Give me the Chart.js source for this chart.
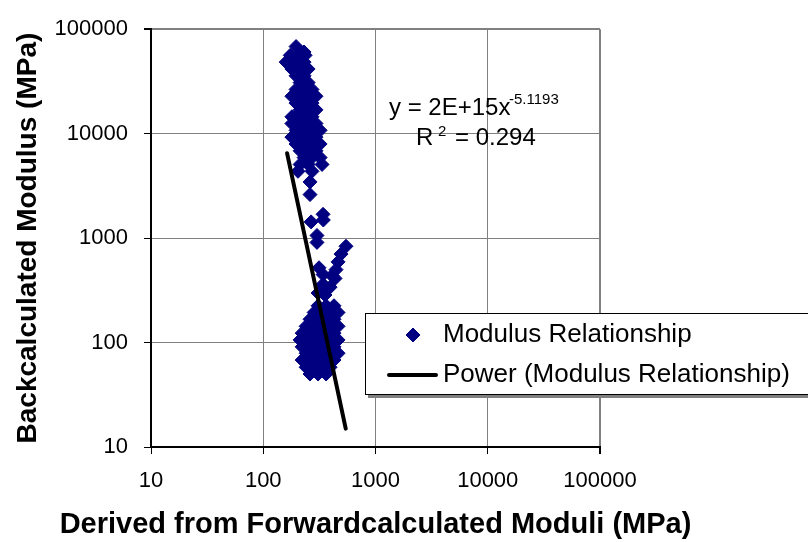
<!DOCTYPE html>
<html>
<head>
<meta charset="utf-8">
<title>Modulus Relationship</title>
<script src="https://cdn.jsdelivr.net/npm/chart.js@4.4.1/dist/chart.umd.min.js"></script>
<style>
  html, body { margin: 0; padding: 0; background: #fff; }
  #wrap { width: 808px; height: 542px; overflow: hidden; }
</style>
</head>
<body>
<div id="wrap"><canvas id="chart" width="808" height="542"></canvas></div>
<script>
// Decade ticks used on both log axes
const tickValues = [10, 100, 1000, 10000, 100000];

// Modulus Relationship: derived-from-forward modulus (x) vs backcalculated modulus (y), MPa
const forwardModuli = [
  // upper column
  196, 231,
  174, 204, 236,
  160, 196, 231,
  180, 213, 251,
  196, 231,
  213, 251,
  196, 231, 272,
  180, 213, 251, 295,
  196, 231, 272,
  213, 251, 295,
  180, 196, 231, 272,
  180, 213, 251, 295,
  196, 231, 272, 321,
  180, 213, 251, 295,
  196, 231, 272, 321,
  213, 251, 295,
  231, 272, 321,
  213, 251, 334,
  204, 272,
  261, 261, 341,
  // middle band
  267, 343, 301, 301,
  546, 493, 464, 445, 410, 436, 394, 355,
  314, 341, 308, 341,
  // lower cluster
  308, 363, 427,
  284, 334, 394, 464,
  261, 308, 363, 427,
  241, 284, 334, 394, 464,
  222, 261, 308, 363, 427,
  213, 241, 284, 334, 394, 464,
  222, 261, 308, 363, 427,
  241, 284, 334, 394, 464,
  222, 261, 308, 363, 427,
  241, 284, 334, 394,
  261, 308, 363
];
const backModuli = [
  // upper column
  68200, 60500,
  56200, 56200, 56200,
  48400, 48400, 48400,
  41600, 41600, 41600,
  35800, 35800,
  30800, 30800,
  26500, 26500, 26500,
  22800, 22800, 22800, 22800,
  19600, 19600, 19600,
  16900, 16900, 16900,
  14500, 14500, 14500, 14500,
  12500, 12500, 12500, 12500,
  10750, 10750, 10750, 10750,
  9260, 9260, 9260, 9260,
  7960, 7960, 7960, 7960,
  6850, 6850, 6850,
  5900, 5900, 5900,
  5070, 5070, 5070,
  4360, 4360,
  3450, 2610, 1690,
  // middle band
  1430, 1490, 1060, 910,
  835, 703, 592, 499, 438, 411, 339, 285,
  520, 448, 298, 361,
  // lower cluster
  225, 225, 225,
  194, 194, 194, 194,
  167, 167, 167, 167,
  143, 143, 143, 143, 143,
  123, 123, 123, 123, 123,
  106, 106, 106, 106, 106, 106,
  91, 91, 91, 91, 91,
  79, 79, 79, 79, 79,
  68, 68, 68, 68, 68,
  58, 58, 58, 58,
  50, 50, 50
];

// Power trend line, drawn between its end points
const trendX = [163, 543];
const trendY = [6500, 15];

const seriesName = 'Modulus Relationship';
const trendName = 'Power (Modulus Relationship)';
const xTitle = 'Derived from Forwardcalculated Moduli (MPa)';
const yTitle = 'Backcalculated Modulus (MPa)';
const equationText = 'y = 2E+15x';
const exponentText = '-5.1193';
const rSquaredText = '= 0.294';

const FONT = '"Liberation Sans", Arial, sans-serif';
const NAVY = '#000080';

Chart.defaults.font.family = FONT;
Chart.defaults.color = '#000';

// x axis title, equation label and the boxed legend over the plot
const annotations = {
  id: 'annotations',
  afterDraw(chart) {
    const ctx = chart.ctx;
    const area = chart.chartArea;
    ctx.save();
    ctx.fillStyle = '#000';

    // x title, centred under the plot without width squeezing
    ctx.font = 'bold 29px ' + FONT;
    ctx.textAlign = 'center';
    ctx.textBaseline = 'middle';
    ctx.fillText(xTitle, (area.left + area.right) / 2, 525);

    ctx.textAlign = 'left';
    ctx.textBaseline = 'alphabetic';
    ctx.font = '24px ' + FONT;
    ctx.fillText(equationText, 389, 115);
    ctx.fillText('R', 416, 145);
    ctx.fillText(rSquaredText, 455, 145);
    ctx.font = '15px ' + FONT;
    ctx.fillText(exponentText, 509, 104);
    ctx.fillText('2', 438, 136);

    // legend box with a small shadow
    ctx.fillStyle = '#808080';
    ctx.fillRect(368, 316, 460, 82);
    ctx.fillStyle = '#fff';
    ctx.fillRect(365, 313, 460, 82);
    ctx.strokeStyle = '#000';
    ctx.lineWidth = 1;
    ctx.strokeRect(365.5, 313.5, 460, 81);

    ctx.fillStyle = NAVY;
    ctx.strokeStyle = NAVY;
    Chart.helpers.drawPoint(ctx, { pointStyle: 'rectRot', radius: 7, borderWidth: 1 }, 413, 335);

    ctx.strokeStyle = '#000';
    ctx.lineWidth = 4;
    ctx.lineCap = 'round';
    ctx.beginPath();
    ctx.moveTo(389, 375);
    ctx.lineTo(436, 375);
    ctx.stroke();

    ctx.fillStyle = '#000';
    ctx.font = '26px ' + FONT;
    ctx.textBaseline = 'middle';
    ctx.fillText(seriesName, 443, 335);
    ctx.fillText(trendName, 443, 375);
    ctx.restore();
  }
};

function decadeTicks(scale) {
  scale.ticks = tickValues.map(v => ({ value: v }));
}

function gridWidth(c) {
  return c.tick && c.tick.value === 100000 ? 2 : 1;
}

const scatterPoints = forwardModuli.map((x, i) => ({ x: x, y: backModuli[i] }));
const trendPoints = trendX.map((x, i) => ({ x: x, y: trendY[i] }));

new Chart(document.getElementById('chart'), {
  type: 'scatter',
  data: {
    datasets: [
      {
        label: trendName,
        data: trendPoints,
        showLine: true,
        borderColor: '#000',
        borderWidth: 4,
        borderCapStyle: 'round',
        pointRadius: 0,
        order: 0
      },
      {
        label: seriesName,
        data: scatterPoints,
        pointStyle: 'rectRot',
        pointRadius: 7,
        pointHoverRadius: 7,
        backgroundColor: NAVY,
        borderColor: NAVY,
        borderWidth: 1,
        order: 1
      }
    ]
  },
  options: {
    responsive: false,
    animation: false,
    events: [],
    layout: { padding: { left: 0, top: 18, right: 208, bottom: 0 } },
    plugins: {
      legend: { display: false },
      tooltip: { enabled: false }
    },
    scales: {
      x: {
        type: 'logarithmic',
        position: 'bottom',
        min: 10,
        max: 100000,
        afterBuildTicks: decadeTicks,
        afterFit: s => { s.height = 95; },
        ticks: {
          callback: v => String(v),
          color: '#000',
          font: { size: 22 },
          padding: 14,
          autoSkip: false,
          maxRotation: 0
        },
        grid: { color: '#808080', lineWidth: gridWidth, tickLength: 7, tickColor: '#000' },
        border: { color: '#000', width: 2 }
      },
      y: {
        type: 'logarithmic',
        position: 'left',
        min: 10,
        max: 100000,
        afterBuildTicks: decadeTicks,
        afterFit: s => { s.width = 151; },
        ticks: {
          callback: v => String(v),
          color: '#000',
          font: { size: 22 },
          padding: 16,
          autoSkip: false
        },
        grid: { color: '#808080', lineWidth: gridWidth, tickLength: 7, tickColor: '#000' },
        border: { color: '#000', width: 2 },
        title: {
          display: true,
          text: yTitle,
          color: '#000',
          font: { size: 28, weight: 'bold' },
          padding: { top: 11, bottom: 0 }
        }
      }
    }
  },
  plugins: [annotations]
});
</script>
</body>
</html>
